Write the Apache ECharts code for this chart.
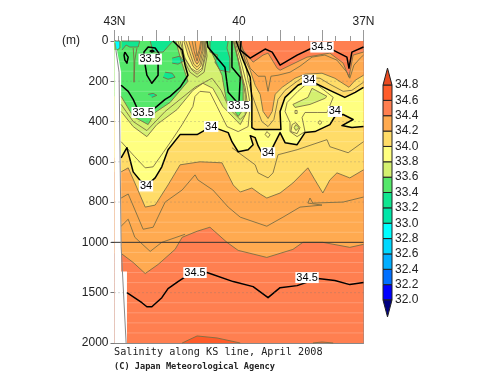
<!DOCTYPE html>
<html><head><meta charset="utf-8">
<style>html,body{margin:0;padding:0;background:#fff}#c{width:500px;height:387px}</style>
<script src="https://cdn.jsdelivr.net/npm/echarts@6/dist/echarts.min.js"></script>
</head><body><div id="c"></div>
<script>
// ---- tick labels ----
const latLabelValues=[43,40,37];
const latLabelTexts=['43N','40','37N'];
const latMajor=[43,42,41,40,39,38,37];
const latStations=[42.92,42.84,42.67,42.33,41.67,41.33,40.67,40.33,39.67,39.33,38.67,38.33,37.67,37.33];
const depthTicks=[0,200,400,600,800,1000,1500,2000];
const depthDotted=[200,400,600,800,1500];
const depthFaint=[50,100,150,250,300,350,450,500,550,650,700,750,850,900,950,1100,1200,1300,1400,1600,1700,1800,1900];
const barLevels=[32,32.2,32.4,32.6,32.8,33,33.2,33.4,33.6,33.8,34,34.2,34.4,34.6,34.8];
const barColors=['#0000ff','#0070ff','#00aeff','#00d8ff','#00ffff','#00e6a8','#10e690','#55e86a','#d4f070','#ffff80','#ffdc68','#ffaa50','#ff7f50','#ff5c2a'];
const barOverflow=['#000080','#e84a20'];
const titleMain='Salinity along KS line, April 2008';
const titleSub='(C) Japan Meteorological Agency';

// ---- contours, [latitude, depth in m] ----
const s346a=[[41.37,2000],[41.01,1930],[40.53,1950],[39.97,2000]];
const s346b=[[38.22,2000],[38.00,1990],[37.73,2000]];
const s345deep=[[42.70,1500],[42.34,1600],[42.22,1640],[42.10,1640],[41.86,1550],[41.71,1460],[41.47,1390],[41.25,1330],[40.77,1300],[40.14,1390],[39.66,1440],[39.30,1550],[39.01,1450],[38.60,1430],[38.10,1360],[37.69,1380],[37.33,1420],[37,1400]];
const s345top=[[39.95,0],[39.97,45],[39.73,85],[39.61,70],[39.37,40],[39.20,55],[39.01,120],[38.60,70],[38.24,35],[37.73,45],[37.40,80],[37.35,135],[37.28,55],[37,30]];
const s344low=[[42.84,1110],[42.55,1200],[42.26,1310],[41.95,1220],[41.54,1070],[41.37,975],[41.01,945],[40.70,925],[40.29,1000],[40.02,1080],[39.33,1150],[38.70,1070],[38.46,1000],[37.98,1000],[37.33,1050],[37,1020]];
const s344top=[[37,55],[37.25,70],[37.35,180],[37.49,110],[37.81,60],[38.36,80],[39.01,145],[39.08,135],[39.30,60],[39.42,70],[39.66,105],[39.90,45],[39.97,0]];
const s343low=[[42.84,780],[42.67,760],[42.31,935],[42.07,925],[41.78,800],[41.37,740],[41.06,665],[40.99,690],[40.63,740],[40.26,825],[39.97,875],[39.33,920],[38.94,875],[38.53,825],[38.00,815],[38.34,805],[38.29,780],[38.22,805],[37.49,800],[37,775]];
const s343left=[[42.84,920],[42.67,885],[42.51,975],[42.14,1090],[41.86,1000],[41.30,960]];
const s343top=[[40.00,0],[39.85,70],[39.73,135],[39.54,175],[39.37,175],[39.30,250],[39.23,175],[39.06,170],[38.77,155],[38.53,125],[38.24,80],[37.93,70],[37.64,95],[37.40,155],[37.33,185],[37.23,120],[37.08,85],[37,70]];
const s342low=[[42.84,650],[42.67,630],[42.51,705],[42.26,825],[42.02,815],[41.71,715],[41.42,615],[40.94,600],[40.41,605],[40.14,715],[39.97,750],[39.69,730],[39.49,760],[39.33,780],[39.01,755],[38.70,705],[38.34,630],[38.17,690],[37.98,755],[37.81,690],[37.64,655],[37.33,680],[37,640]];
const s342top=[[37,170],[37.20,195],[37.35,230],[37.69,185],[38.00,160],[38.41,165],[38.65,185],[38.96,230],[39.13,265],[39.20,350],[39.30,385],[39.42,350],[39.49,265],[39.61,220],[39.73,145],[39.85,95],[40.02,0]];
const s341low=[[40.17,530],[39.61,615],[39.54,655],[39.30,680],[39.18,655],[39.06,565],[38.60,540],[37.88,490],[37.81,525],[37.37,555],[37,500]];
const s341top=[[40.05,0],[39.88,70],[39.78,195],[39.69,265],[39.54,350],[39.45,400],[39.30,425],[39.16,390],[39.06,290],[38.89,245],[38.60,200],[38.46,180],[38.05,185],[37.81,215],[37.49,250],[37.28,245],[37,205]];
const s340low=[[42.84,580],[42.70,530],[42.55,650],[42.39,690],[42.24,720],[42.02,680],[41.86,625],[41.71,540],[41.42,465],[41.01,465],[40.67,425],[40.46,440],[40.26,455],[40.17,500],[40.02,550],[39.78,540],[39.66,515],[39.73,470],[39.61,480],[39.54,520],[39.45,555],[39.30,555],[39.18,525],[39.01,455],[38.89,505],[38.60,515],[38.41,455],[38.17,450],[37.81,415],[37.69,375],[37.49,365],[37.25,390],[37.52,420],[37.28,430],[37,425]];
const s340up=[[37,230],[37.20,255],[37.45,280],[37.81,245],[38.31,195],[38.58,220],[38.89,280],[39.01,350],[38.99,440],[39.13,440],[39.61,440],[39.69,430],[39.69,290],[39.73,180],[39.90,95],[40.07,0]];
const s339=[[42.84,500],[42.51,575],[42.26,630],[42.07,625],[41.83,555],[41.61,490],[41.37,415],[41.11,325],[41.06,275],[40.94,250],[40.70,255],[40.53,325],[40.29,425],[40.02,450],[39.78,425],[39.73,315],[39.81,220],[39.93,120],[40.10,0]];
const s339blob=[[38.58,250],[38.84,305],[38.89,350],[38.77,405],[38.77,450],[38.60,475],[38.41,450],[38.48,380],[38.41,355],[38.10,355],[37.88,355],[37.73,280],[38.10,220],[38.41,220],[38.58,250]];
const s339ring=[[38.72,415],[38.63,405],[38.53,430],[38.60,460],[38.75,450],[38.72,415]];
const s339dotA=[[38.05,395],[38.00,405],[38.05,415],[38.10,405],[38.05,395]];
const s339dotB=[[38.65,345],[38.60,345],[38.60,360],[38.65,360],[38.65,345]];
const s339dotC=[[39.33,450],[39.25,465],[39.30,480],[39.37,465],[39.33,450]];
const s338=[[42.84,350],[42.55,425],[42.22,475],[41.98,415],[41.49,340],[41.11,245],[40.87,210],[40.63,235],[40.39,325],[39.97,415],[39.78,340],[39.85,230],[39.97,145],[40.12,0]];
const s338blob=[[38.70,315],[38.34,280],[38.24,235],[37.88,275],[37.93,285],[38.29,315],[38.65,330],[38.70,315]];
const s338dot=[[38.67,430],[38.63,415],[38.55,430],[38.63,445],[38.67,430]];
const s337=[[42.84,315],[42.55,400],[42.22,445],[41.78,350],[41.42,290],[41.06,230],[40.65,185],[40.43,245],[40.22,340],[39.97,390],[39.85,365],[39.85,265],[39.95,145],[40.13,0]];
const s336left=[[42.84,275],[42.55,375],[42.19,415],[42.02,355],[41.66,305],[41.23,200],[41.40,95],[41.52,0]];
const s336right=[[40.80,0],[40.63,70],[40.41,170],[40.31,290],[40.02,375],[39.90,340],[39.90,220],[40.02,95],[40.14,0]];
const s335left=[[42.84,220],[42.67,250],[42.55,290],[42.43,345],[42.19,360],[41.98,325],[41.78,290],[41.66,275],[41.42,230],[41.23,170],[41.30,120],[41.37,45],[41.59,0]];
const s335right=[[40.77,0],[40.75,30],[40.34,130],[40.26,255],[40.00,315],[40.00,305],[39.97,180],[40.17,130],[40.17,0]];
const s335loop=[[42.29,85],[42.22,170],[42.10,210],[41.95,170],[41.95,105],[41.90,70],[42.02,35],[42.19,30],[42.29,55],[42.29,85]];
const s335oval=[[42.75,55],[42.67,80],[42.70,110],[42.75,95],[42.77,70],[42.75,55]];
const s335dot=[[42.10,45],[42.05,50],[42.10,55],[42.14,50],[42.10,45]];
const s334a=[[42.82,0],[42.39,0],[42.43,30],[42.63,30],[42.72,20],[42.82,45]];
const s334b=[[42.14,0],[42.07,55],[41.83,55],[41.59,0]];
const s334c=[[41.78,155],[41.61,160],[41.54,180],[41.71,190],[41.83,180]];
const s334d=[[42.19,265],[42.07,260],[41.98,270],[42.10,280]];
const s334e=[[40.70,0],[40.70,55],[40.51,70],[40.58,105],[40.46,145],[40.22,155],[40.22,85],[40.29,35],[40.26,0]];
const s334f=[[41.61,85],[41.42,75],[41.33,100],[41.47,115],[41.61,110]];
const s330corner=[[42.99,0],[42.87,0],[42.87,35],[42.94,45]];
const sVee=[[42.46,35],[42.51,95],[42.53,205],[42.53,95],[42.55,35]];
// high-salinity tongue at 41N
const t337=[[41.47,0],[41.35,85],[41.18,155],[41.01,180],[40.84,155],[40.77,75],[40.81,0]];
const t338=[[41.42,0],[41.30,85],[41.13,145],[41.01,165],[40.89,145],[40.80,70],[40.82,0]];
const t339=[[41.37,0],[41.33,80],[41.16,135],[41.01,155],[40.89,135],[40.82,65],[40.84,0]];
const t340=[[41.33,0],[41.23,70],[41.11,125],[41.01,145],[40.92,125],[40.84,60],[40.85,0]];
const t341=[[41.28,0],[41.18,60],[41.09,115],[41.01,130],[40.94,115],[40.87,50],[40.87,0]];
const t342=[[41.21,0],[41.13,55],[41.06,100],[41.01,115],[40.96,100],[40.89,45],[40.88,0]];
const t343=[[41.13,0],[41.08,50],[41.01,100],[40.94,50],[40.90,0]];
const t344=[[41.06,0],[41.03,45],[41.01,75],[40.96,45],[40.92,0]];
// seabed / no-data edge
const noData=[[43,45],[42.94,45],[42.84,155],[42.84,1290],[42.70,1290],[42.70,2000],[43,2000]];
const coastLine=[[42.99,10],[42.89,155],[42.84,1040],[42.72,2000]];
// contour labels: lat, depth, text
const contourLabels=[[42.14,90,'33.5'],[42.31,355,'33.5'],[40.00,325,'33.5'],[38.00,30,'34.5'],[41.06,1300,'34.5'],[38.36,1350,'34.5'],[38.31,195,'34'],[37.69,350,'34'],[40.67,425,'34'],[39.30,555,'34'],[42.24,720,'34']];

// depth axis is 1000 m per 1000 units above 1000 m, twice as compressed below
const ty=d=>d<=1000?d:1000+(d-1000)/2;
const untf=v=>v<=1000?v:1000+(v-1000)*2;

const colorOf=lv=>barColors[barLevels.indexOf(lv)];
const fieldShapes=[
 {fill:colorOf(34.4),pts:[[43,0],[37,0],[37,2000],[43,2000]]},
 {fill:colorOf(34.6),pts:s346a},{fill:colorOf(34.6),pts:s346b},
 {fill:colorOf(34.2),pts:[...s344low,...s344top,[43,0],[43,1110]]},
 {fill:colorOf(34.0),pts:[...s342low,...s342top,[43,0],[43,650]]},
 {fill:colorOf(33.8),pts:[...s340low,...s340up,[43,0],[43,580]]},
 {fill:colorOf(33.6),pts:[...s338,[43,0],[43,350]]},
 {fill:colorOf(33.6),pts:s338blob},{fill:colorOf(33.6),pts:s338dot},
 {fill:colorOf(33.4),pts:[...s336left,[43,0],[43,275]]},
 {fill:colorOf(33.4),pts:s336right},
 {fill:colorOf(33.2),pts:s334a},{fill:colorOf(33.2),pts:s334b},{fill:colorOf(33.2),pts:s334c},
 {fill:colorOf(33.2),pts:s334d},{fill:colorOf(33.2),pts:s334e},{fill:colorOf(33.2),pts:s334f},
 {fill:colorOf(32.8),pts:s330corner},
 {fill:colorOf(33.8),pts:t338},{fill:colorOf(34.0),pts:t340},{fill:colorOf(34.2),pts:t342},
 {fill:'#ffffff',pts:noData}
];
const thin=[s346a,s346b,s344low,s344top,s343low,s343left,s343top,s342low,s342top,s341low,s341top,s339,s339blob,s339ring,s339dotA,s339dotB,s339dotC,s338,s338blob,s338dot,s337,s336left,s336right,s334a,s334b,s334c,s334d,s334e,s334f,s330corner,sVee,t337,t338,t339,t340,t341,t342,t343,t344];
const thick=[s345deep,s345top,s340low,s340up,s335left,s335right,s335loop,s335oval,s335dot];

const gridLines=[
 ...depthFaint.map(d=>({pts:[[43,d],[37,d]],stroke:'rgba(255,255,255,0.2)',width:1})),
 ...thin.map(p=>({pts:p,stroke:'#7a6e44',width:0.9})),
 ...thick.map(p=>({pts:p,stroke:'#000',width:1.5})),
 ...depthDotted.map(d=>({pts:[[43,d],[37,d]],stroke:'rgba(120,120,120,0.55)',width:1,dash:[1,3]})),
 {pts:[[43.08,1000],[37,1000]],stroke:'#333',width:1},
 {pts:coastLine,stroke:'#888',width:1}
];
const barShapes=[
 ...barColors.map((c,i)=>({fill:c,stroke:'#222',pts:[[0,barLevels[i]],[1,barLevels[i]],[1,barLevels[i+1]],[0,barLevels[i+1]]]})),
 {fill:barOverflow[0],stroke:'#222',pts:[[0,32],[1,32],[0.5,31.78]]},
 {fill:barOverflow[1],stroke:'#222',pts:[[0,34.8],[1,34.8],[0.5,35.02]]}
];

const fieldSeries={type:'custom',silent:true,xAxisIndex:0,yAxisIndex:0,clip:false,z:1,
 data:fieldShapes.map((s,i)=>[i]),
 renderItem:(p,api)=>{const s=fieldShapes[p.dataIndex];
  return {type:'polygon',shape:{points:s.pts.map(q=>api.coord([q[0],ty(q[1])]))},style:{fill:s.fill,stroke:null}};}};
const lineSeries={type:'custom',silent:true,xAxisIndex:0,yAxisIndex:0,clip:false,z:2,
 data:gridLines.map((s,i)=>[i]),
 renderItem:(p,api)=>{const s=gridLines[p.dataIndex];
  return {type:'polyline',shape:{points:s.pts.map(q=>api.coord([q[0],ty(q[1])]))},style:{fill:null,stroke:s.stroke,lineWidth:s.width,lineDash:s.dash||null,lineJoin:'round'}};}};
const labelSeries={type:'scatter',silent:true,xAxisIndex:0,yAxisIndex:0,z:3,symbolSize:0,
 itemStyle:{opacity:1},
 data:contourLabels.map(l=>[l[0],ty(l[1]),l[2]]),
 label:{show:true,opacity:1,position:'inside',formatter:p=>p.value[2],color:'#000',backgroundColor:'#fff',padding:[0,1],fontSize:11,fontFamily:'Liberation Sans'}};
const barSeries={type:'custom',silent:true,xAxisIndex:4,yAxisIndex:2,clip:false,z:1,
 data:barShapes.map((s,i)=>[i]),
 renderItem:(p,api)=>{const s=barShapes[p.dataIndex];
  return {type:'polygon',shape:{points:s.pts.map(q=>api.coord(q))},style:{fill:s.fill,stroke:s.stroke,lineWidth:1}};}};

const latBase={type:'value',min:37,max:43,inverse:true,gridIndex:0,splitLine:{show:false}};
const txt={fontFamily:'Liberation Sans',fontSize:12,color:'#222'};
const option={
 animation:false,backgroundColor:'#fff',
 title:[
  {text:titleMain,left:114,top:347,padding:0,textStyle:{fontFamily:'DejaVu Sans Mono',fontSize:10.2,fontWeight:'normal',color:'#222'}},
  {text:titleSub,left:114,top:362,padding:0,textStyle:{fontFamily:'DejaVu Sans Mono',fontSize:8.65,fontWeight:'bold',color:'#222'}}
 ],
 graphic:[{type:'text',left:62,top:35,style:{text:'(m)',fontFamily:'Liberation Sans',fontSize:12,fill:'#222'}}],
 grid:[{left:114.5,right:136.5,top:41,bottom:44},{left:383,width:9,top:85,height:215}],
 xAxis:[
  {...latBase,position:'top',axisLine:{show:false},
   axisTick:{show:true,length:11,inside:false,customValues:latMajor,lineStyle:{color:'#999'}},
   axisLabel:{show:true,margin:13,...txt,customValues:latLabelValues,formatter:v=>latLabelTexts[latLabelValues.indexOf(v)]}},
  {...latBase,position:'top',offset:11,axisLine:{show:true,lineStyle:{color:'#aaa'}},axisTick:{show:false},axisLabel:{show:false}},
  {...latBase,position:'top',axisLine:{show:true,lineStyle:{color:'#777'}},axisTick:{show:true,length:5,customValues:latStations,lineStyle:{color:'#999'}},axisLabel:{show:false}},
  {...latBase,position:'bottom',axisLine:{show:true,lineStyle:{color:'#888'}},axisTick:{show:false},axisLabel:{show:false}},
  {type:'value',gridIndex:1,min:0,max:1,show:false}
 ],
 yAxis:[
  {type:'value',gridIndex:0,min:0,max:1500,inverse:true,position:'left',splitLine:{show:false},
   axisLine:{show:true,lineStyle:{color:'#999',width:2}},
   axisTick:{show:true,length:4,customValues:depthTicks.map(ty),lineStyle:{color:'#777'}},
   axisLabel:{show:true,margin:6,...txt,customValues:depthTicks.map(ty),formatter:v=>String(Math.round(untf(v)))}},
  {type:'value',gridIndex:0,min:0,max:1500,inverse:true,position:'right',splitLine:{show:false},
   axisLine:{show:true,lineStyle:{color:'#888'}},axisTick:{show:false},axisLabel:{show:false}},
  {type:'value',gridIndex:1,min:32,max:34.8,interval:0.2,position:'right',splitLine:{show:false},
   axisLine:{show:false},axisTick:{show:false},
   axisLabel:{show:true,margin:3,...txt,formatter:v=>v.toFixed(1)}}
 ],
 series:[fieldSeries,lineSeries,labelSeries,barSeries]
};
echarts.init(document.getElementById('c'),null,{renderer:'canvas'}).setOption(option);
</script></body></html>
